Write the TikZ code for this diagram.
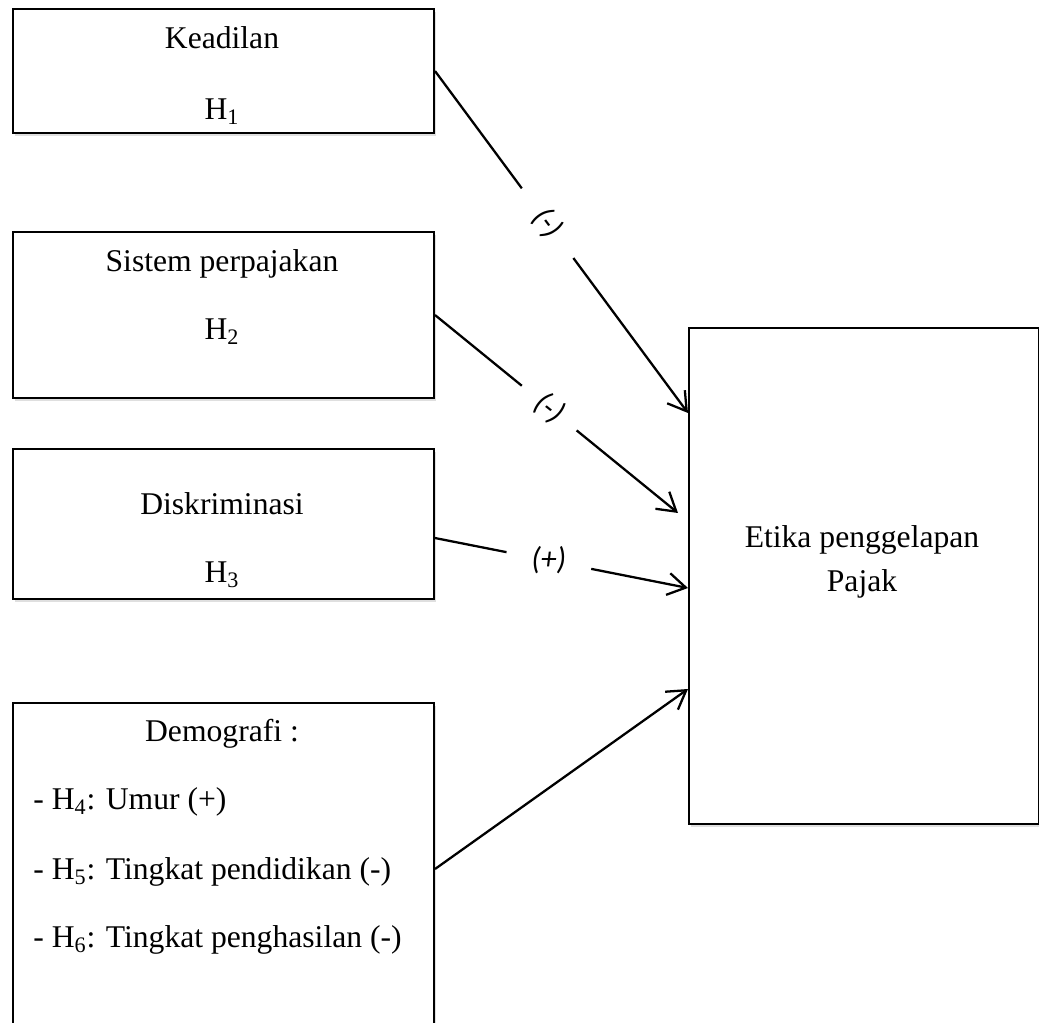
\documentclass[tikz,border=0pt]{standalone}
\usepackage{fontspec}
\setmainfont{Liberation Serif}
\newfontfamily\lblfont{Carlito}
\usetikzlibrary{arrows.meta,calc,shadows}
\tikzset{
	kotak/.style={draw,line width=1.2pt,minimum width=8.42cm,inner sep=0pt,fill=white,
		drop shadow={shadow xshift=1pt,shadow yshift=-1.5pt,opacity=0.25}},
	teks/.style={anchor=base,inner sep=0pt,font=\fontsize{18}{22}\selectfont},
	tanda/.style={inner sep=0pt,minimum height=0.5cm,font=\lblfont\itshape\fontsize{18}{21}\selectfont},
	garis/.style={line width=1.3pt},
	panah/.style={line width=1.3pt,-{Straight Barb[length=0.36cm,width=0.44cm]}}
}

\begin{document}
\begin{tikzpicture}[x=0.02cm,y=-0.02cm]
	\useasboundingbox (0,0) rectangle (1039,1023);
	% kotak variabel
	\node[kotak,anchor=north west,minimum height=2.48cm] (k1) at (12,8) {};
	\node[kotak,anchor=north west,minimum height=3.32cm] (k2) at (12,231) {};
	\node[kotak,anchor=north west,minimum height=3cm] (k3) at (12,448) {};
	\node[kotak,anchor=north west,minimum height=7cm] (k4) at (12,702) {};
	\node[kotak,anchor=north west,minimum width=7cm,minimum height=9.92cm] (etika) at (688,327) {};

	\node[teks] (t1) at (222,49) {Keadilan};
	\node[teks] (h1) at (222,120) {H\textsubscript{1}};
	\node[teks] (t2) at (222,272) {Sistem perpajakan};
	\node[teks] (h2) at (222,340) {H\textsubscript{2}};
	\node[teks] (t3) at (222,515) {Diskriminasi};
	\node[teks] (h3) at (222,583) {H\textsubscript{3}};
	\node[teks] (t4) at (222,742) {Demografi :};
	\node[teks,anchor=base west] (d4) at (33,810) {- H\textsubscript{4}: Umur (+)};
	\node[teks,anchor=base west] (d5) at (33,880) {- H\textsubscript{5}: Tingkat pendidikan (-)};
	\node[teks,anchor=base west] (d6) at (33,948) {- H\textsubscript{6}: Tingkat penghasilan (-)};
	\node[teks] (y1) at (862,548) {Etika penggelapan};
	\node[teks] (y2) at (862,592) {Pajak};

	% titik ujung panah
	\coordinate (s3) at ($(k3.east)+(0,14)$);
	\coordinate (s4) at ($(k4.east)+(0,-9)$);
	\coordinate (e1) at ($(etika.north west)+(0,86)$);
	\coordinate (e2) at ($(etika.north west)+(-10,186)$);
	\coordinate (e3) at ($(etika.north west)+(0,261)$);
	\coordinate (e4) at ($(etika.north west)+(0,362)$);

	\node[tanda,rotate=-53.4,minimum width=1.72cm] (l1) at ($(k1.east)!0.445!(e1)$) {(-)};
	\node[tanda,rotate=-38.9,minimum width=1.4cm] (l2) at ($(k2.east)!0.47!(e2)$) {(-)};
	\node[tanda,minimum width=1.68cm] (l3) at ($(s3)!0.45!(e3)$) {(+)};

	\draw[garis] (k1.east) -- (l1);
	\draw[panah] (l1) -- (e1);
	\draw[garis] (k2.east) -- (l2);
	\draw[panah] (l2) -- (e2);
	\draw[garis] (s3) -- (l3);
	\draw[panah] (l3) -- (e3);
	\draw[panah] (s4) -- (e4);
\end{tikzpicture}
\end{document}
